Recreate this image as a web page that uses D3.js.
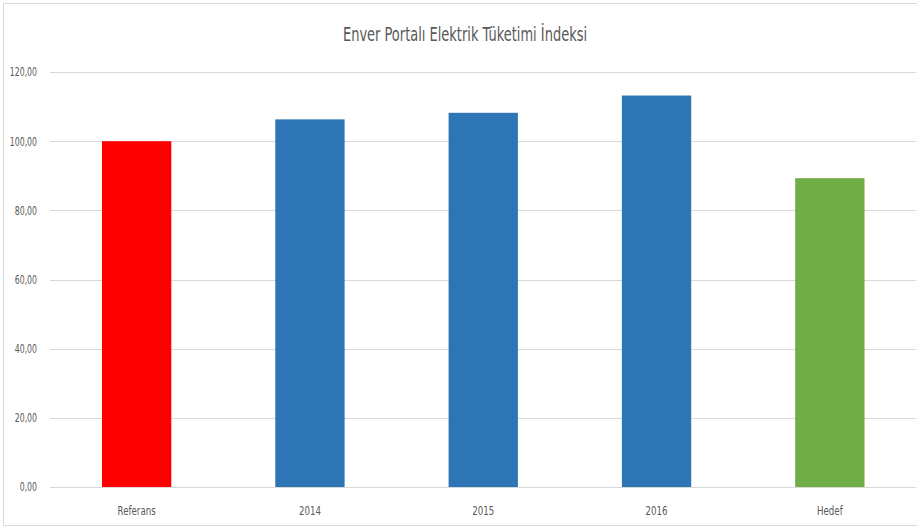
<!DOCTYPE html>
<html><head><meta charset="utf-8">
<script src="https://cdn.jsdelivr.net/npm/d3@7"></script>
<style>body{margin:0;background:#fff}svg{display:block}</style>
</head><body>
<script>
const categories = ["Referans", "2014", "2015", "2016", "Hedef"];
const values = [100.0, 106.3, 108.2, 113.2, 89.3];
const barColors = ["#ff0000", "#2e75b6", "#2e75b6", "#2e75b6", "#70ad47"];
const yTicks = [0, 20, 40, 60, 80, 100, 120];
const title = "Enver Portalı Elektrik Tüketimi İndeksi";

const W = 917, H = 529;
const svg = d3.select("body").append("svg").attr("width", W).attr("height", H);
const font = "'DejaVu Sans Condensed','Liberation Sans Narrow','Open Sans',sans-serif";

function squeeze(sel, f) {
  sel.each(function () {
    const len = this.getComputedTextLength();
    d3.select(this).attr("textLength", len * f).attr("lengthAdjust", "spacingAndGlyphs");
  });
}

svg.append("rect").attr("x", 3.5).attr("y", 3.5).attr("width", W + 10).attr("height", 522)
  .attr("fill", "#fff").attr("stroke", "#d9d9d9");

const x = d3.scaleBand().domain(categories).range([50, 916.5]).paddingInner(0.6).paddingOuter(0.3);
const y = d3.scaleLinear().domain([0, 120]).range([487, 72]);

const grid = svg.append("g");
grid.selectAll("line").data(yTicks).join("line")
  .attr("x1", 50).attr("x2", 916).attr("y1", d => Math.round(y(d)) + 0.5).attr("y2", d => Math.round(y(d)) + 0.5)
  .attr("stroke", "#d9d9d9").attr("stroke-width", 1);

const fmt = d => d3.format(".2f")(d).replace(".", ",");
const yAxis = svg.append("g").attr("transform", "translate(37,0)")
  .call(d3.axisLeft(y).tickValues(yTicks).tickFormat(fmt).tickSize(0).tickPadding(0));
yAxis.select(".domain").remove();
yAxis.selectAll("text").attr("font-family", font).attr("font-size", 12).attr("fill", "#595959").call(squeeze, 0.72);

svg.append("g").selectAll("rect").data(values).join("rect")
  .attr("x", (d, i) => x(categories[i])).attr("width", x.bandwidth())
  .attr("y", d => y(d)).attr("height", d => y(0) - y(d))
  .attr("fill", (d, i) => barColors[i]);

const xAxis = svg.append("g").attr("transform", "translate(0,487)")
  .call(d3.axisBottom(x).tickSize(0).tickPadding(19));
xAxis.select(".domain").remove();
xAxis.selectAll("text").attr("font-family", font).attr("font-size", 12).attr("fill", "#595959").call(squeeze, 0.8);

svg.append("text").attr("x", 465).attr("y", 41).attr("text-anchor", "middle")
  .attr("font-family", font).attr("font-size", 19).attr("fill", "#595959").text(title).call(squeeze, 0.76);
</script>
</body></html>
